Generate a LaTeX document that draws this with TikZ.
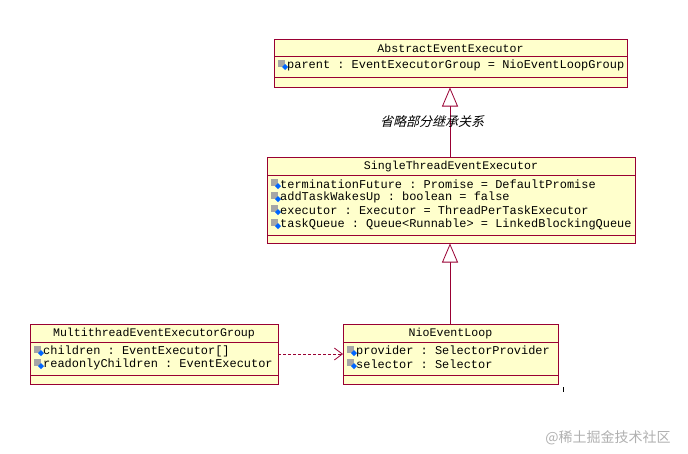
\documentclass[tikz,border=0pt]{standalone}
\usepackage{fontspec}
\setmonofont{Liberation Mono}
\newfontfamily\cjk{Noto Sans CJK SC}[FakeSlant=0.25]
\newfontfamily\cjkup{Noto Sans CJK SC}
\usetikzlibrary{arrows.meta}
\definecolor{bx}{HTML}{990033}
\definecolor{fl}{HTML}{FFFFCC}
\definecolor{wm}{HTML}{B0B0B0}
\tikzset{
  box/.style={draw=bx,fill=fl,line width=0.8pt},
  sep/.style={draw=bx,line width=0.8pt},
  ttl/.style={font=\fontsize{11.6}{12}\ttfamily,inner sep=0pt},
  att/.style={font=\fontsize{11.95}{12}\ttfamily,inner sep=0pt,anchor=west},
  inh/.style={draw=bx,line width=0.8pt,-{Triangle[open,width=16pt,length=19pt,fill=white]}},
  dep/.style={draw=bx,line width=0.8pt,dashed,dash pattern=on 3pt off 2pt,-{Straight Barb[length=8pt,width=12pt]}},
}
\newcommand{\icn}[2]{%
  \fill[gray!70] (#1-1,#2-5) rectangle (#1+6,#2+2);
  \fill[blue!60!cyan] (#1+6,#2-1) -- (#1+9,#2+2) -- (#1+6,#2+5) -- (#1+3,#2+2) -- cycle;
}
\begin{document}
\begin{tikzpicture}[x=1pt,y=-1pt]
\useasboundingbox (0,0) rectangle (688,453);
% Abstract
\draw[box] (274,39) rectangle (627,87);
\draw[sep] (274,56) -- (627,56) (274,77) -- (627,77);
\node[ttl] (a) at (450.5,48) {AbstractEventExecutor};
\icn{279}{65}
\node[att] (a1) at (287,65) {parent : EventExecutorGroup = NioEventLoopGroup};
% Single
\draw[box] (267,157) rectangle (635,243);
\draw[sep] (267,175) -- (635,175) (267,235) -- (635,235);
\node[ttl] (s) at (451,166) {SingleThreadEventExecutor};
\foreach \y/\t [count=\i] in {184/{terminationFuture : Promise = DefaultPromise},197/{addTaskWakesUp : boolean = false},210/{executor : Executor = ThreadPerTaskExecutor},224/{taskQueue : Queue<Runnable> = LinkedBlockingQueue}}{
  \icn{272}{\y}
  \node[att] (s\i) at (280,\y) {\t};
}
% Multi
\draw[box] (30,324) rectangle (278,384);
\draw[sep] (30,342) -- (278,342) (30,375) -- (278,375);
\node[ttl] (m) at (154,333) {MultithreadEventExecutorGroup};
\icn{35}{351}\node[att] (m1) at (43,351) {children : EventExecutor[]};
\icn{35}{364}\node[att] (m2) at (43,364) {readonlyChildren : EventExecutor};
% Nio
\draw[box] (343,324) rectangle (558,384);
\draw[sep] (343,342) -- (558,342) (343,375) -- (558,375);
\node[ttl] (n) at (450.5,333) {NioEventLoop};
\icn{348}{351}\node[att] (n1) at (356,351) {provider : SelectorProvider};
\icn{348}{364}\node[att] (n2) at (356,364) {selector : Selector};
% connectors
\coordinate (aB) at (450,87.5);
\coordinate (sT) at (450,157);
\coordinate (sB) at (450,243.5);
\coordinate (nT) at (450,324);
\coordinate (mR) at (278,354);
\coordinate (nL) at (343,354);
\draw[inh] (sT) -- (aB);
\draw[inh] (nT) -- (sB);
\draw[dep] (mR) -- (nL);
\node[font=\cjk\fontsize{13}{14}\selectfont,inner sep=0pt] (lbl) at (432,122) {省略部分继承关系};
\coordinate (t1) at (563,387); \coordinate (t2) at (563,392);
\draw[line width=0.8pt] (t1) -- (t2);
\node[font=\fontsize{14}{15}\selectfont\cjkup,text=wm,inner sep=0pt] (w) at (608,438) {@稀土掘金技术社区};
\end{tikzpicture}
\end{document}
